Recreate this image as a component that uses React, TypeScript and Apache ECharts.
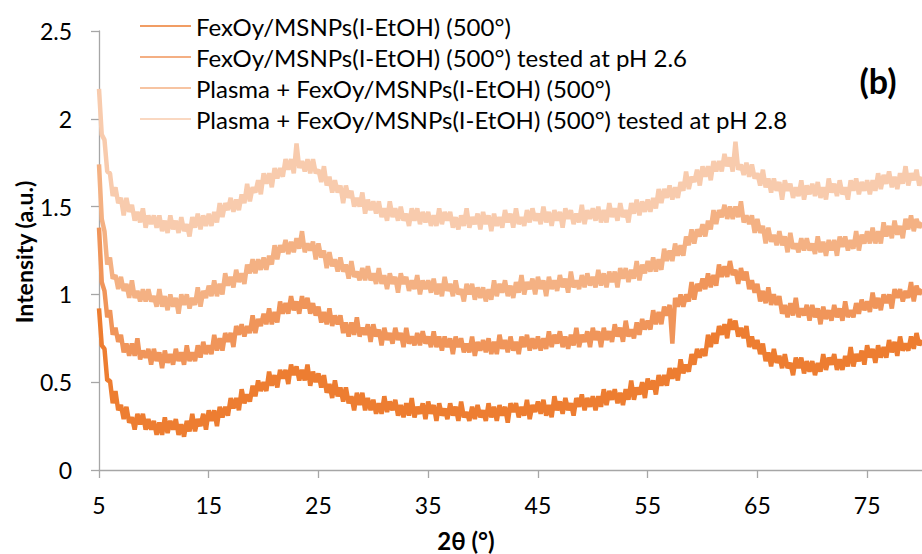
import React, { useEffect, useRef } from "react";
import * as echarts from "echarts";

// 2θ sampling of the typed readings below
const TWO_THETA_START = 5;
const TWO_THETA_STEP = 0.25;

const SERIES_NAMES = [
  "FexOy/MSNPs(I-EtOH) (500°)",
  "FexOy/MSNPs(I-EtOH) (500°) tested at pH 2.6",
  "Plasma + FexOy/MSNPs(I-EtOH) (500°)",
  "Plasma + FexOy/MSNPs(I-EtOH) (500°) tested at pH 2.8",
];
const SERIES_COLORS = ["#ED7D31", "#F0955A", "#F4B183", "#F8CBAD"];

const Y_TICKS = [0, 0.5, 1, 1.5, 2, 2.5];

// FexOy/MSNPs(I-EtOH) (500°)
const S1 = [
  0.92,0.71,0.69,0.51,0.51,0.38,0.45,0.34,0.37,0.29,0.36,0.27,0.30,0.23,0.32,0.26,0.32,0.23,0.29,0.23,
  0.28,0.20,0.27,0.20,0.30,0.21,0.28,0.23,0.29,0.20,0.26,0.19,0.28,0.22,0.32,0.22,0.29,0.25,0.32,0.23,
  0.34,0.28,0.34,0.25,0.36,0.30,0.36,0.31,0.41,0.35,0.41,0.34,0.46,0.38,0.43,0.39,0.48,0.42,0.51,0.45,
  0.50,0.45,0.56,0.48,0.54,0.47,0.57,0.52,0.57,0.49,0.60,0.54,0.59,0.51,0.57,0.51,0.60,0.48,0.56,0.50,
  0.55,0.47,0.54,0.44,0.49,0.41,0.51,0.42,0.47,0.39,0.47,0.38,0.42,0.34,0.44,0.37,0.44,0.34,0.41,0.34,
  0.40,0.32,0.38,0.32,0.42,0.33,0.39,0.34,0.40,0.31,0.37,0.30,0.38,0.31,0.41,0.30,0.36,0.32,0.38,0.29,
  0.39,0.32,0.37,0.28,0.38,0.31,0.35,0.29,0.38,0.31,0.36,0.28,0.39,0.30,0.33,0.28,0.36,0.29,0.37,0.30,
  0.34,0.28,0.38,0.30,0.36,0.28,0.37,0.31,0.36,0.27,0.38,0.33,0.38,0.30,0.36,0.31,0.40,0.29,0.37,0.33,
  0.39,0.32,0.40,0.31,0.37,0.30,0.42,0.34,0.39,0.32,0.41,0.34,0.38,0.31,0.41,0.36,0.43,0.34,0.41,0.36,
  0.42,0.34,0.42,0.36,0.46,0.37,0.45,0.40,0.46,0.38,0.44,0.37,0.46,0.40,0.51,0.40,0.47,0.43,0.50,0.41,
  0.52,0.46,0.51,0.43,0.54,0.48,0.54,0.48,0.58,0.52,0.58,0.51,0.63,0.55,0.60,0.56,0.66,0.60,0.69,0.64,
  0.69,0.65,0.77,0.70,0.78,0.72,0.82,0.77,0.83,0.75,0.86,0.80,0.85,0.76,0.81,0.75,0.82,0.70,0.76,0.69,
  0.74,0.66,0.72,0.62,0.67,0.59,0.69,0.61,0.65,0.58,0.66,0.58,0.61,0.54,0.64,0.58,0.64,0.55,0.62,0.56,
  0.62,0.54,0.61,0.56,0.66,0.57,0.64,0.60,0.66,0.57,0.63,0.57,0.65,0.59,0.70,0.59,0.66,0.62,0.68,0.60,
  0.71,0.64,0.69,0.61,0.71,0.64,0.70,0.64,0.74,0.67,0.73,0.65,0.76,0.68,0.72,0.68,0.76,0.69,0.78,0.71,
  0.74,
];

// FexOy/MSNPs(I-EtOH) (500°) tested at pH 2.6
const S2 = [
  1.38,1.07,1.02,0.87,0.91,0.77,0.81,0.73,0.77,0.67,0.72,0.65,0.72,0.65,0.75,0.63,0.68,0.64,0.69,0.60,
  0.69,0.62,0.67,0.58,0.68,0.61,0.66,0.60,0.69,0.62,0.67,0.60,0.71,0.62,0.67,0.62,0.71,0.64,0.73,0.66,
  0.71,0.66,0.77,0.68,0.75,0.68,0.78,0.73,0.78,0.70,0.82,0.77,0.83,0.76,0.82,0.78,0.88,0.78,0.86,0.82,
  0.89,0.83,0.92,0.83,0.90,0.84,0.96,0.89,0.95,0.89,0.99,0.91,0.96,0.89,0.99,0.92,0.98,0.89,0.95,0.88,
  0.93,0.84,0.90,0.83,0.92,0.82,0.88,0.83,0.88,0.78,0.84,0.76,0.84,0.77,0.87,0.76,0.81,0.77,0.83,0.73,
  0.83,0.76,0.80,0.71,0.81,0.74,0.78,0.72,0.81,0.74,0.78,0.70,0.81,0.72,0.76,0.71,0.78,0.71,0.79,0.72,
  0.76,0.70,0.79,0.70,0.76,0.68,0.76,0.70,0.75,0.66,0.76,0.70,0.75,0.67,0.72,0.67,0.76,0.65,0.73,0.68,
  0.74,0.67,0.75,0.66,0.73,0.66,0.77,0.69,0.74,0.67,0.76,0.68,0.73,0.66,0.76,0.70,0.77,0.68,0.75,0.69,
  0.76,0.68,0.75,0.69,0.79,0.70,0.77,0.72,0.79,0.70,0.76,0.69,0.77,0.71,0.81,0.70,0.77,0.73,0.79,0.70,
  0.81,0.74,0.79,0.70,0.81,0.74,0.79,0.73,0.83,0.76,0.81,0.73,0.85,0.76,0.80,0.75,0.84,0.77,0.86,0.80,
  0.85,0.80,0.91,0.83,0.90,0.83,0.93,0.88,0.94,0.72,0.98,0.93,1.00,0.93,1.00,0.96,1.07,0.97,1.06,1.02,
  1.09,1.03,1.12,1.04,1.11,1.05,1.17,1.10,1.16,1.10,1.19,1.11,1.14,1.06,1.15,1.08,1.13,1.03,1.08,1.01,
  1.06,0.96,1.02,0.95,1.04,0.94,1.00,0.94,0.99,0.89,0.94,0.87,0.95,0.88,0.98,0.87,0.92,0.88,0.94,0.85,
  0.94,0.87,0.92,0.83,0.93,0.86,0.91,0.85,0.94,0.87,0.92,0.85,0.96,0.87,0.91,0.87,0.95,0.89,0.97,0.91,
  0.96,0.90,1.01,0.92,0.98,0.91,1.00,0.95,1.00,0.92,1.03,0.98,1.03,0.96,1.02,0.98,1.07,0.96,1.05,1.00,
  1.03,
];

// Plasma + FexOy/MSNPs(I-EtOH) (500°)
const S3 = [
  1.74,1.43,1.36,1.17,1.21,1.09,1.11,1.03,1.10,1.02,1.06,0.98,1.08,0.98,1.02,0.96,1.03,0.96,1.03,0.96,
  0.99,0.93,1.03,0.93,0.99,0.91,1.00,0.93,0.98,0.89,1.00,0.94,1.00,0.92,0.98,0.94,1.04,0.93,1.02,0.98,
  1.05,0.99,1.08,0.99,1.06,1.00,1.12,1.05,1.10,1.04,1.14,1.07,1.12,1.06,1.17,1.12,1.20,1.12,1.20,1.14,
  1.21,1.14,1.22,1.17,1.28,1.20,1.28,1.24,1.31,1.23,1.30,1.24,1.32,1.26,1.36,1.24,1.29,1.25,1.30,1.20,
  1.29,1.21,1.25,1.15,1.24,1.16,1.20,1.13,1.21,1.13,1.17,1.09,1.19,1.10,1.13,1.08,1.15,1.08,1.16,1.08,
  1.12,1.06,1.15,1.06,1.11,1.03,1.12,1.06,1.10,1.01,1.12,1.06,1.10,1.02,1.08,1.03,1.11,1.00,1.08,1.03,
  1.08,1.01,1.09,1.00,1.06,0.99,1.10,1.02,1.06,0.99,1.08,1.00,1.03,0.96,1.06,1.00,1.06,0.97,1.04,0.98,
  1.04,0.96,1.03,0.97,1.08,0.99,1.06,1.01,1.08,0.99,1.05,0.98,1.07,1.01,1.11,1.00,1.07,1.03,1.09,1.00,
  1.10,1.03,1.08,0.99,1.10,1.03,1.08,1.02,1.11,1.04,1.09,1.01,1.13,1.04,1.08,1.03,1.11,1.04,1.12,1.05,
  1.10,1.04,1.14,1.05,1.12,1.04,1.13,1.07,1.13,1.04,1.15,1.09,1.15,1.07,1.14,1.09,1.19,1.08,1.17,1.12,
  1.19,1.13,1.21,1.13,1.20,1.14,1.26,1.19,1.25,1.19,1.29,1.22,1.28,1.22,1.33,1.28,1.37,1.29,1.37,1.33,
  1.40,1.33,1.42,1.37,1.48,1.40,1.48,1.44,1.51,1.43,1.50,1.43,1.50,1.44,1.53,1.41,1.45,1.40,1.45,1.35,
  1.43,1.35,1.39,1.29,1.38,1.30,1.34,1.28,1.36,1.28,1.33,1.24,1.35,1.26,1.29,1.24,1.32,1.25,1.32,1.25,
  1.29,1.23,1.33,1.24,1.30,1.22,1.31,1.25,1.31,1.22,1.33,1.27,1.33,1.25,1.31,1.26,1.36,1.25,1.34,1.29,
  1.36,1.29,1.38,1.29,1.36,1.29,1.41,1.33,1.39,1.32,1.42,1.34,1.39,1.32,1.43,1.37,1.45,1.36,1.43,1.38,
  1.41,
];

// Plasma + FexOy/MSNPs(I-EtOH) (500°) tested at pH 2.8
const S4 = [
  2.17,1.91,1.88,1.70,1.69,1.56,1.61,1.52,1.55,1.45,1.55,1.47,1.51,1.42,1.47,1.41,1.49,1.38,1.45,1.40,
  1.45,1.38,1.45,1.36,1.42,1.35,1.45,1.37,1.42,1.35,1.44,1.36,1.40,1.33,1.44,1.38,1.46,1.37,1.45,1.39,
  1.46,1.39,1.47,1.41,1.52,1.44,1.52,1.48,1.55,1.47,1.54,1.48,1.57,1.52,1.63,1.53,1.61,1.58,1.65,1.57,
  1.69,1.63,1.69,1.61,1.72,1.66,1.72,1.67,1.77,1.71,1.77,1.69,1.86,1.72,1.76,1.70,1.77,1.69,1.77,1.69,
  1.71,1.64,1.73,1.62,1.67,1.58,1.65,1.58,1.62,1.52,1.62,1.55,1.59,1.50,1.55,1.50,1.58,1.46,1.54,1.48,
  1.53,1.46,1.53,1.44,1.49,1.42,1.53,1.44,1.49,1.42,1.50,1.42,1.46,1.39,1.49,1.42,1.49,1.40,1.47,1.41,
  1.47,1.39,1.45,1.39,1.49,1.40,1.47,1.42,1.47,1.38,1.44,1.37,1.45,1.39,1.49,1.38,1.44,1.40,1.46,1.37,
  1.47,1.40,1.45,1.36,1.46,1.39,1.44,1.38,1.48,1.41,1.46,1.38,1.49,1.40,1.44,1.39,1.48,1.41,1.49,1.42,
  1.46,1.40,1.50,1.41,1.47,1.39,1.48,1.42,1.47,1.38,1.49,1.43,1.48,1.40,1.46,1.41,1.51,1.40,1.48,1.43,
  1.49,1.42,1.50,1.41,1.48,1.41,1.52,1.44,1.49,1.42,1.52,1.44,1.48,1.41,1.52,1.46,1.54,1.45,1.53,1.47,
  1.54,1.47,1.55,1.49,1.60,1.52,1.60,1.55,1.62,1.54,1.61,1.55,1.64,1.59,1.70,1.60,1.67,1.64,1.71,1.62,
  1.73,1.67,1.73,1.65,1.76,1.70,1.76,1.70,1.80,1.73,1.78,1.70,1.87,1.71,1.74,1.68,1.75,1.67,1.74,1.66,
  1.69,1.62,1.71,1.61,1.66,1.58,1.66,1.59,1.64,1.54,1.65,1.59,1.63,1.55,1.61,1.56,1.65,1.54,1.62,1.57,
  1.63,1.56,1.64,1.55,1.61,1.54,1.66,1.58,1.63,1.56,1.65,1.57,1.61,1.54,1.65,1.59,1.66,1.57,1.64,1.59,
  1.65,1.57,1.65,1.59,1.69,1.60,1.68,1.63,1.70,1.61,1.67,1.60,1.69,1.63,1.73,1.62,1.69,1.65,1.71,1.62,
  1.67,
];

const SERIES_VALUES = [S1, S2, S3, S4];

const FONT = "Lato, 'Open Sans', sans-serif";

function toPairs(values: number[]): [number, number][] {
  return values.map((v, i) => [TWO_THETA_START + i * TWO_THETA_STEP, v]);
}

export default function App() {
  const ref = useRef<HTMLDivElement>(null);

  useEffect(() => {
    if (!ref.current) return;
    const chart = echarts.init(ref.current, undefined, { renderer: "svg" });
    const axisGray = "#A6A6A6";
    chart.setOption({
      animation: false,
      backgroundColor: "#ffffff",
      textStyle: { fontFamily: FONT },
      grid: { left: 99, right: 0, top: 31, bottom: 84, containLabel: false },
      legend: {
        orient: "vertical",
        left: 140,
        top: 14,
        padding: 0,
        itemGap: 7,
        itemWidth: 51,
        itemHeight: 1.5,
        icon: "rect",
        data: SERIES_NAMES,
        textStyle: { fontFamily: FONT, fontSize: 24, lineHeight: 22, color: "#000000" },
      },
      xAxis: {
        type: "value",
        min: 5,
        max: 80,
        interval: 10,
        axisLine: { show: true, lineStyle: { color: axisGray, width: 1.3 } },
        axisTick: { show: true, inside: false, length: 8, lineStyle: { color: axisGray, width: 1.3 } },
        splitLine: { show: false },
        axisLabel: {
          showMaxLabel: false,
          margin: 23,
          fontFamily: FONT,
          fontSize: 23,
          color: "#000000",
        },
      },
      yAxis: {
        type: "value",
        min: Y_TICKS[0],
        max: Y_TICKS[Y_TICKS.length - 1],
        interval: 0.5,
        axisLine: { show: true, lineStyle: { color: axisGray, width: 1.3 } },
        axisTick: { show: true, inside: false, length: 8, lineStyle: { color: axisGray, width: 1.3 } },
        splitLine: { show: false },
        axisLabel: {
          margin: 27,
          fontFamily: FONT,
          fontSize: 23,
          color: "#000000",
        },
      },
      graphic: [
        {
          type: "text",
          x: 24,
          y: 252,
          rotation: Math.PI / 2,
          style: {
            text: "Intensity (a.u.)",
            fontFamily: FONT,
            fontSize: 23,
            fontWeight: "bold",
            fill: "#000000",
            align: "center",
            verticalAlign: "middle",
          },
        },
        {
          type: "text",
          x: 466,
          y: 540,
          style: {
            text: "2θ (°)",
            fontFamily: FONT,
            fontSize: 24,
            fontWeight: "bold",
            fill: "#000000",
            align: "center",
            verticalAlign: "middle",
          },
        },
        {
          type: "text",
          x: 878,
          y: 80,
          style: {
            text: "(b)",
            fontFamily: FONT,
            fontSize: 34,
            fontWeight: "bold",
            fill: "#000000",
            align: "center",
            verticalAlign: "middle",
          },
        },
      ],
      series: SERIES_NAMES.map((name, i) => ({
        name,
        type: "line",
        data: toPairs(SERIES_VALUES[i]),
        showSymbol: false,
        symbol: "none",
        color: SERIES_COLORS[i],
        lineStyle: { color: SERIES_COLORS[i], width: 4.5, join: "bevel" },
        emphasis: { disabled: true },
        z: 2 + i,
      })),
    });
    return () => chart.dispose();
  }, []);

  return (
    <div
      ref={ref}
      style={{ position: "fixed", left: 0, top: 0, width: 922, height: 554, background: "#fff" }}
    />
  );
}
